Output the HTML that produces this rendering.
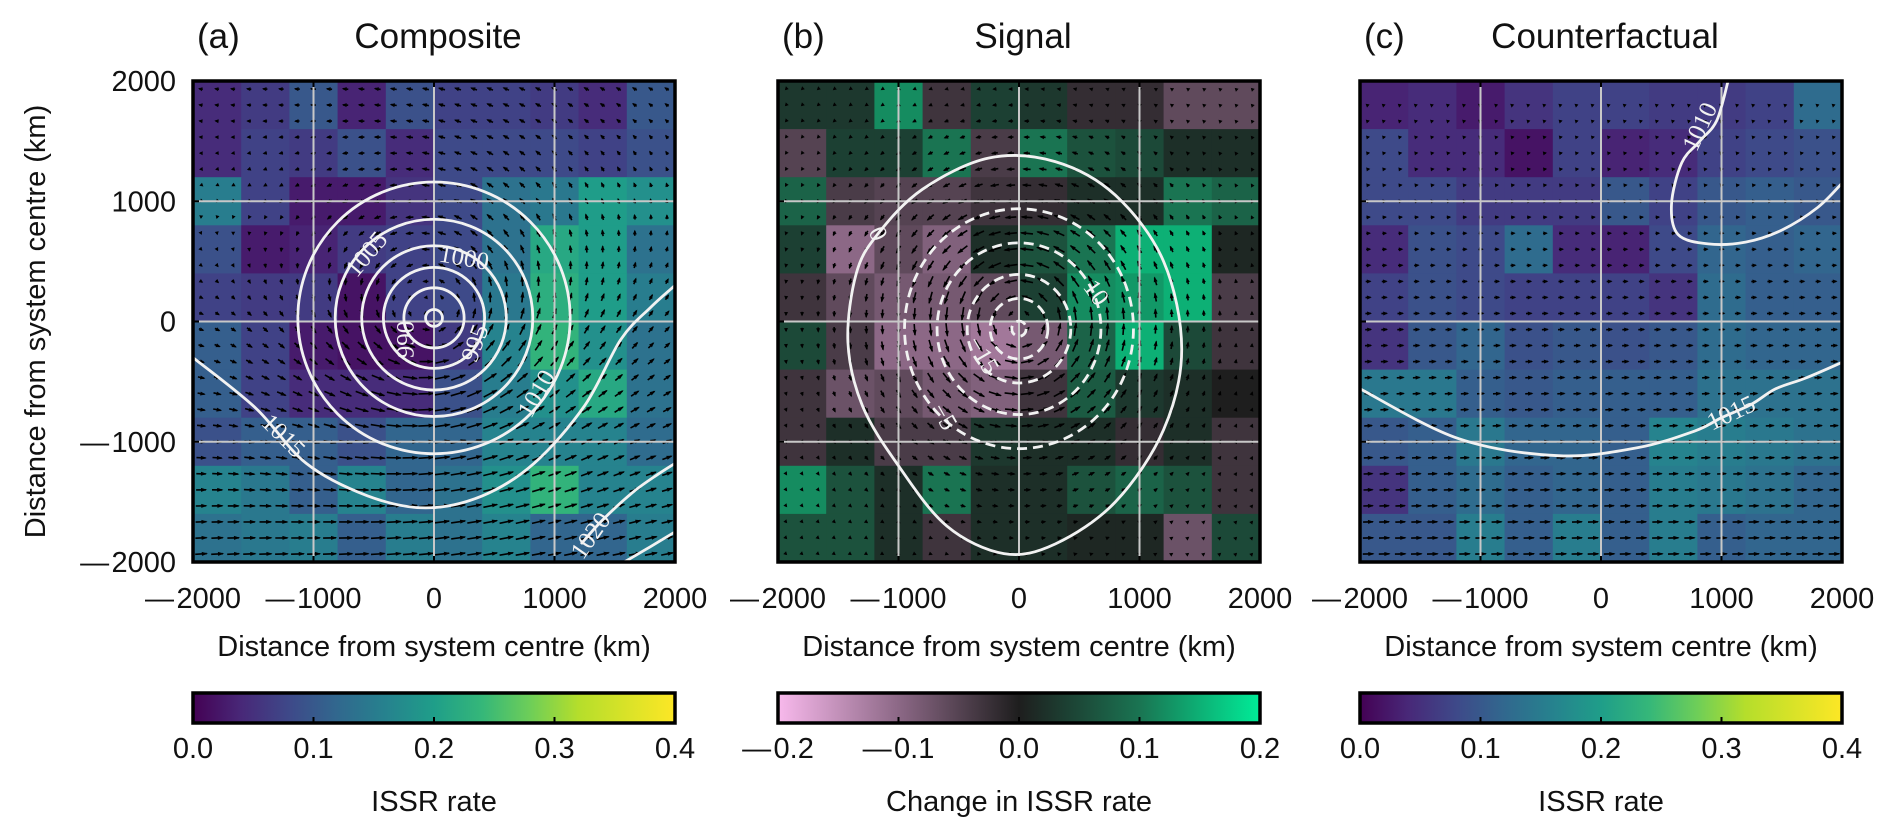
<!DOCTYPE html>
<html><head><meta charset="utf-8">
<style>
html,body{margin:0;padding:0;background:#fff;}
svg{display:block;font-family:"Liberation Sans",sans-serif;}
</style></head>
<body>
<svg id="fig" width="1892" height="836" viewBox="0 0 1892 836" xmlns="http://www.w3.org/2000/svg">
  <defs>
    <linearGradient id="gradViridis" x1="0" x2="1" y1="0" y2="0">
      <stop offset="0" stop-color="#440154"/><stop offset="0.1" stop-color="#482878"/>
      <stop offset="0.2" stop-color="#3e4989"/><stop offset="0.3" stop-color="#31688e"/>
      <stop offset="0.4" stop-color="#26828e"/><stop offset="0.5" stop-color="#1f9e89"/>
      <stop offset="0.6" stop-color="#35b779"/><stop offset="0.7" stop-color="#6ece58"/>
      <stop offset="0.8" stop-color="#b5de2b"/><stop offset="1" stop-color="#fde725"/>
    </linearGradient>
    <linearGradient id="gradDiv" x1="0" x2="1" y1="0" y2="0">
      <stop offset="0" stop-color="#f8b9ec"/><stop offset="0.25" stop-color="#8c6886"/>
      <stop offset="0.5" stop-color="#1e1e1e"/><stop offset="0.75" stop-color="#1a7452"/>
      <stop offset="1" stop-color="#00ec98"/>
    </linearGradient>
  </defs>
  <g id="root"></g>
</svg>
<script>
// ---------- data ----------
const kmTicks = [-2000, -1000, 0, 1000, 2000];
const kmTickLabels = ["\u2014\u200a2000", "\u2014\u200a1000", "0", "1000", "2000"];
const cbarTicksA = [0.0, 0.1, 0.2, 0.3, 0.4];
const cbarTickLabelsA = ["0.0", "0.1", "0.2", "0.3", "0.4"];
const cbarTicksB = [-0.2, -0.1, 0.0, 0.1, 0.2];
const cbarTickLabelsB = ["\u2014\u200a0.2", "\u2014\u200a0.1", "0.0", "0.1", "0.2"];

// ISSR rate composite (rows top->bottom, cols left->right)
const compositeRate = [
 [0.05,0.07,0.11,0.04,0.10,0.08,0.08,0.07,0.05,0.11],
 [0.05,0.08,0.07,0.10,0.05,0.09,0.09,0.09,0.08,0.10],
 [0.17,0.08,0.03,0.03,0.06,0.09,0.15,0.16,0.22,0.20],
 [0.10,0.03,0.04,0.07,0.08,0.09,0.15,0.24,0.22,0.15],
 [0.08,0.07,0.07,0.02,0.08,0.09,0.16,0.25,0.22,0.17],
 [0.12,0.08,0.03,0.02,0.02,0.07,0.18,0.26,0.20,0.15],
 [0.12,0.08,0.05,0.05,0.05,0.10,0.17,0.20,0.24,0.15],
 [0.10,0.12,0.12,0.10,0.13,0.13,0.18,0.18,0.18,0.14],
 [0.18,0.16,0.12,0.18,0.13,0.15,0.20,0.26,0.18,0.18],
 [0.15,0.16,0.17,0.12,0.17,0.15,0.18,0.13,0.13,0.17]
];
// change in ISSR rate (signal)
const signalChange = [
 [0.03,0.03,0.12,-0.03,0.04,0.03,-0.02,-0.02,-0.06,-0.06],
 [-0.05,0.04,0.04,0.10,-0.04,0.10,0.06,0.05,0.02,0.02],
 [0.08,-0.04,-0.05,-0.05,-0.03,-0.02,0.02,0.02,0.10,0.08],
 [0.04,-0.10,-0.06,-0.09,0.02,0.06,0.10,0.15,0.15,0.01],
 [-0.03,-0.06,-0.08,-0.08,-0.06,0.04,0.12,0.13,0.15,-0.04],
 [0.05,-0.04,-0.10,-0.10,-0.12,-0.08,0.08,0.15,0.05,-0.03],
 [-0.03,-0.07,-0.06,-0.08,-0.09,-0.03,0.07,0.03,0.02,0.00],
 [-0.03,0.02,-0.04,-0.04,0.03,0.02,0.02,-0.02,0.02,-0.03],
 [0.12,0.06,0.02,0.10,0.02,0.02,0.06,0.08,0.06,-0.03],
 [0.06,0.06,0.02,-0.03,0.02,0.02,0.01,0.01,-0.07,0.05]
];
// counterfactual ISSR rate
const counterfactualRate = [
 [0.04,0.05,0.03,0.06,0.08,0.08,0.07,0.07,0.08,0.14],
 [0.09,0.05,0.05,0.02,0.08,0.04,0.05,0.08,0.09,0.10],
 [0.09,0.09,0.07,0.07,0.07,0.11,0.08,0.11,0.12,0.11],
 [0.05,0.10,0.09,0.14,0.05,0.04,0.09,0.13,0.12,0.13],
 [0.08,0.10,0.09,0.08,0.08,0.08,0.06,0.14,0.12,0.12],
 [0.06,0.11,0.13,0.10,0.11,0.10,0.11,0.14,0.13,0.13],
 [0.16,0.16,0.12,0.11,0.12,0.12,0.12,0.15,0.15,0.15],
 [0.11,0.12,0.16,0.13,0.13,0.12,0.18,0.17,0.16,0.15],
 [0.06,0.12,0.14,0.12,0.13,0.12,0.17,0.16,0.15,0.13],
 [0.11,0.11,0.17,0.12,0.17,0.12,0.17,0.12,0.13,0.13]
];
// pressure contours (hPa) panel a
const compositeRingLevels = [985, 990, 995, 1000, 1005, 1010];
const compositeRingRadii = [70, 250, 420, 600, 820, 1130];
const compositeOpenLevels = [1015, 1020, 1025];
const compositeOpen1015 = [[-2000,-300],[-1480,-720],[-1060,-1180],[-550,-1450],[-70,-1550],[400,-1450],[830,-1180],[1250,-700],[1550,-150],[1800,120],[2000,300]];
const compositeOpen1020 = [[1220,-1850],[1400,-1650],[1650,-1420],[1860,-1270],[2000,-1180]];
const compositeOpen1025 = [[1580,-2000],[1800,-1870],[2000,-1750]];
// signal contours
const signalZeroRing = [[-250,1360],[300,1330],[800,1050],[1200,500],[1350,-230],[1200,-900],[800,-1500],[300,-1850],[-125,-1930],[-600,-1700],[-1000,-1200],[-1300,-700],[-1420,-170],[-1350,400],[-1170,730],[-800,1100]];
const signalDashLevels = [-5, -10, -15, -20, -25];
const signalDashRadii = [950, 680, 430, 240, 60];
// counterfactual contours
const cf1010 = [[1055,2000],[960,1670],[820,1500],[670,1320],[585,975],[640,723],[890,645],[1200,660],[1500,760],[1800,950],[2000,1150]];
const cf1015 = [[-2000,-560],[-1180,-975],[-354,-1116],[300,-1050],[780,-910],[1000,-800],[1245,-690],[1450,-560],[1700,-470],[2000,-340]];

// ---------- helpers ----------
const NS = "http://www.w3.org/2000/svg";
const root = document.getElementById("root");
function mk(tag, attrs, parent) {
  const e = document.createElementNS(NS, tag);
  for (const k in attrs) e.setAttribute(k, attrs[k]);
  (parent || root).appendChild(e);
  return e;
}
function lerpHex(a, b, t) {
  const pa = [1,3,5].map(i => parseInt(a.substr(i,2),16));
  const pb = [1,3,5].map(i => parseInt(b.substr(i,2),16));
  return "rgb(" + pa.map((v,i)=>Math.round(v+(pb[i]-v)*t)).join(",") + ")";
}
const virStops = ["#440154","#482878","#3e4989","#31688e","#26828e","#1f9e89","#35b779","#6ece58","#b5de2b","#fde725","#fde725"];
function viridis(t) { t = Math.max(0, Math.min(1, t)); const s = t*9; const i = Math.floor(s); return lerpHex(virStops[i], virStops[i+1], s-i); }
const divStops = ["#f8b9ec","#8c6886","#1e1e1e","#1a7452","#00ec98","#00ec98"];
function divmap(t) { t = Math.max(0, Math.min(1, t)); const s = t*4; const i = Math.floor(s); return lerpHex(divStops[i], divStops[i+1], s-i); }

const PW = 482, PH = 481, PY = 81;
const panels = [
  {key:"composite", x0:193, label:"(a)", title:"Composite", data:compositeRate, cmap:v=>viridis(v/0.4), grad:"url(#gradViridis)", ticks:cbarTicksA, tickLabels:cbarTickLabelsA, vmin:0, vmax:0.4, cbTitle:"ISSR rate", yLabels:true},
  {key:"signal", x0:778, label:"(b)", title:"Signal", data:signalChange, cmap:v=>divmap((v+0.2)/0.4), grad:"url(#gradDiv)", ticks:cbarTicksB, tickLabels:cbarTickLabelsB, vmin:-0.2, vmax:0.2, cbTitle:"Change in ISSR rate", yLabels:false},
  {key:"counterfactual", x0:1360, label:"(c)", title:"Counterfactual", data:counterfactualRate, cmap:v=>viridis(v/0.4), grad:"url(#gradViridis)", ticks:cbarTicksA, tickLabels:cbarTickLabelsA, vmin:0, vmax:0.4, cbTitle:"ISSR rate", yLabels:false}
];

function smoothPath(pts, sx, sy, closed) {
  const P = pts.map(p=>[sx(p[0]), sy(p[1])]);
  const n = P.length;
  let d = "M"+P[0][0].toFixed(1)+","+P[0][1].toFixed(1);
  const segs = closed ? n : n-1;
  for (let i=0;i<segs;i++){
    const p0 = P[(i-1+n)%n], p1 = P[i], p2 = P[(i+1)%n], p3 = P[(i+2)%n];
    const a = (!closed && i===0) ? p1 : p0;
    const b = (!closed && i===n-2) ? p2 : p3;
    const c1 = [p1[0]+(p2[0]-a[0])/6, p1[1]+(p2[1]-a[1])/6];
    const c2 = [p2[0]-(b[0]-p1[0])/6, p2[1]-(b[1]-p1[1])/6];
    d += "C"+c1[0].toFixed(1)+","+c1[1].toFixed(1)+" "+c2[0].toFixed(1)+","+c2[1].toFixed(1)+" "+p2[0].toFixed(1)+","+p2[1].toFixed(1);
  }
  return closed ? d+"Z" : d;
}

panels.forEach((P, pi) => {
  const sx = km => P.x0 + (km + 2000) / 4000 * PW;
  const sy = km => PY + (2000 - km) / 4000 * PH;
  const g = mk("g", {});
  
  
  const clipId = "clip" + pi;
  const cp = mk("clipPath", {id: clipId}, g);
  mk("rect", {x:P.x0, y:PY, width:PW, height:PH}, cp);

  // heatmap cells
  const cellsG = mk("g", {"clip-path":"url(#"+clipId+")"}, g);
  
  
  const nR = P.data.length, nC = P.data[0].length, cw = 4000/nC, ch = 4000/nR;
  P.data.forEach((row, r) => row.forEach((v, c) => {
    const x1 = sx(-2000 + c*cw), x2 = sx(-2000 + (c+1)*cw);
    const y1 = sy(2000 - r*ch), y2 = sy(2000 - (r+1)*ch);
    const rc = mk("rect", {x:x1.toFixed(2), y:y1.toFixed(2), width:(x2-x1+0.6).toFixed(2), height:(y2-y1+0.6).toFixed(2), fill:P.cmap(v)}, cellsG);
    
    
  }));

  // wind quiver (decorative wind-vector texture)
  const qG = mk("g", {"clip-path":"url(#"+clipId+")", stroke:"#000", "stroke-width":1.6, fill:"#000"}, g);
  
  
  let dLines = "", dHeads = "";
  const nq = 30, sp = 4000/nq;
  for (let i=0;i<nq;i++) for (let j=0;j<nq;j++){
    const xk = -2000 + (i+0.5)*sp, yk = 2000 - (j+0.5)*sp;
    const r = Math.hypot(xk, yk) + 1;
    let u=0, v=0;
    if (pi===0){ const s = 9*(r/600)*Math.exp(1-r/600); u = -s*yk/r + 4 - 3.5*yk/1000; v = s*xk/r + 1.5; }
    else if (pi===1){ const s = 13*(r/500)*Math.exp(1-r/500); u = -s*yk/r; v = s*xk/r; }
    else { u = 5.5 - 2.6*yk/1000; v = 0.3; }
    const L = Math.hypot(u, v); if (L < 0.6) continue;
    const ux=u/L, uy=-v/L;
    const cx = sx(xk), cy = sy(yk);
    const ax = cx - ux*L/2, ay = cy - uy*L/2, bx = cx + ux*L/2, by = cy + uy*L/2;
    dLines += "M"+ax.toFixed(1)+","+ay.toFixed(1)+"L"+bx.toFixed(1)+","+by.toFixed(1);
    const hl = Math.min(5, 2+L*0.3), hw = 2;
    const hx = bx - ux*hl, hy = by - uy*hl;
    dHeads += "M"+(bx+ux*1.2).toFixed(1)+","+(by+uy*1.2).toFixed(1)+"L"+(hx-uy*hw).toFixed(1)+","+(hy+ux*hw).toFixed(1)+"L"+(hx+uy*hw).toFixed(1)+","+(hy-ux*hw).toFixed(1)+"Z";
  }
  mk("path", {d:dLines, fill:"none"}, qG);
  mk("path", {d:dHeads, stroke:"none"}, qG);

  // grid lines (on top of vectors)
  [-1000, 0, 1000].forEach(k => {
    const gv = mk("line", {x1:sx(k), x2:sx(k), y1:PY, y2:PY+PH, stroke:"#c8c8c8", "stroke-width":2}, g);
    
    
    const gh = mk("line", {x1:P.x0, x2:P.x0+PW, y1:sy(k), y2:sy(k), stroke:"#c8c8c8", "stroke-width":2}, g);
    
    
  });

  // contours
  const cG = mk("g", {"clip-path":"url(#"+clipId+")", fill:"none", stroke:"#f2f2f2", "stroke-width":2.8}, g);
  
  
  const lblG = mk("g", {fill:"#f2f2f2", "font-family":"Liberation Serif, serif", "font-size":"25", "text-anchor":"middle"}, g);
  function label(txt, xk, yk, rot) {
    const t = mk("text", {x:sx(xk), y:sy(yk)+8, transform:"rotate("+rot+" "+sx(xk)+" "+sy(yk)+")"}, lblG);
    t.textContent = txt;
    
    
  }
  if (pi===0){
    compositeRingLevels.forEach((lv, k) => {
      const e = mk("ellipse", {cx:sx(0), cy:sy(30), rx:compositeRingRadii[k]/4000*PW, ry:compositeRingRadii[k]/4000*PH}, cG);
      
      
    });
    [compositeOpen1015, compositeOpen1020, compositeOpen1025].forEach((pts, k) => {
      const p = mk("path", {d:smoothPath(pts, sx, sy, false)}, cG);
      
      
    });
    label("990", -235, -150, -90); label("995", 340, -180, -70); label("1000", 250, 530, 10);
    label("1005", -560, 560, -50); label("1010", 850, -600, -60); label("1015", -1250, -950, 45);
    label("1020", 1300, -1780, -55);
  } else if (pi===1){
    const z = mk("path", {d:smoothPath(signalZeroRing, sx, sy, true)}, cG);
    
    
    signalDashLevels.forEach((lv, k) => {
      const e = mk("ellipse", {cx:sx(0), cy:sy(-60), rx:signalDashRadii[k]/4000*PW, ry:signalDashRadii[k]*1.05/4000*PH, "stroke-dasharray":"10,6"}, cG);
      
      
    });
    label("0", -1170, 730, 65); label("\u22125", -620, -790, 60); label("\u221215", -300, -280, 60); label("10", 640, 240, 55);
  } else {
    [cf1010, cf1015].forEach((pts, k) => {
      const p = mk("path", {d:smoothPath(pts, sx, sy, false)}, cG);
      
      
    });
    label("1010", 820, 1620, -65); label("1015", 1080, -760, -25);
  }

  // frame & ticks
  kmTicks.forEach(k => {
    mk("line", {x1:sx(k), x2:sx(k), y1:PY+PH, y2:PY+PH-6, stroke:"#000", "stroke-width":2}, g);
    mk("line", {x1:sx(k), x2:sx(k), y1:PY, y2:PY+6, stroke:"#000", "stroke-width":2}, g);
    mk("line", {x1:P.x0, x2:P.x0+6, y1:sy(k), y2:sy(k), stroke:"#000", "stroke-width":2}, g);
  });
  const fr = mk("rect", {x:P.x0, y:PY, width:PW, height:PH, fill:"none", stroke:"#000", "stroke-width":3.5}, g);
  
  

  // x tick labels
  kmTicks.forEach((k, i) => {
    const t = mk("text", {x:sx(k), y:608, "font-size":29, "text-anchor":"middle", fill:"#111"}, g);
    t.textContent = kmTickLabels[i];
    
    
  });
  const xt = mk("text", {x:P.x0+PW/2, y:656, "font-size":29, "text-anchor":"middle", fill:"#111"}, g);
  xt.textContent = "Distance from system centre (km)";
  
  
  if (P.yLabels) {
    kmTicks.forEach((k, i) => {
      const t = mk("text", {x:176, y:sy(k)+10, "font-size":29, "text-anchor":"end", fill:"#111"}, g);
      t.textContent = kmTickLabels[i];
      
      
    });
    const yt = mk("text", {x:0, y:0, "font-size":29, "text-anchor":"middle", fill:"#111", transform:"translate(45 "+(PY+PH/2)+") rotate(-90)"}, g);
    yt.textContent = "Distance from system centre (km)";
    
    
  }
  // titles
  const pl = mk("text", {x:P.x0+4, y:48, "font-size":35, fill:"#111"}, g);
  pl.textContent = P.label;
  
  
  const tt = mk("text", {x:P.x0+PW/2+4, y:48, "font-size":35, "text-anchor":"middle", fill:"#111"}, g);
  tt.textContent = P.title;
  
  

  // colorbar
  const cbY = 693, cbH = 30;
  const cb = mk("rect", {x:P.x0, y:cbY, width:PW, height:cbH, fill:P.grad, stroke:"#000", "stroke-width":3.5}, g);
  
  
  const cx = v => P.x0 + (v - P.vmin)/(P.vmax - P.vmin)*PW;
  P.ticks.forEach((v, i) => {
    mk("line", {x1:cx(v), x2:cx(v), y1:cbY+cbH, y2:cbY+cbH-6, stroke:"#000", "stroke-width":2}, g);
    const t = mk("text", {x:cx(v), y:758, "font-size":29, "text-anchor":"middle", fill:"#111"}, g);
    t.textContent = P.tickLabels[i];
    
    
  });
  const ct = mk("text", {x:P.x0+PW/2, y:811, "font-size":29, "text-anchor":"middle", fill:"#111"}, g);
  ct.textContent = P.cbTitle;
  
  
});
</script>
</body></html>
